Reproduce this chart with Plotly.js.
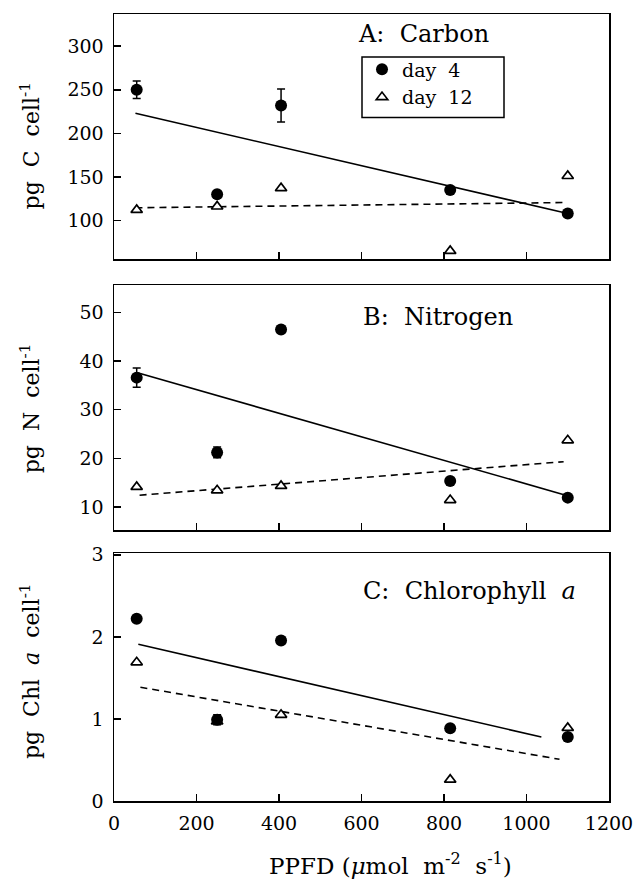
<!DOCTYPE html>
<html>
<head>
<meta charset="utf-8">
<script src="https://cdn.plot.ly/plotly-3.0.1.min.js"></script>
<style>html,body{margin:0;padding:0;background:#fff;}#chart{width:638px;height:881px;}</style>
</head>
<body>
<div id="chart"></div>
<script>
// ---- data ----
const ppfd = [55, 250, 405, 815, 1100];

const carbonDay4 = [250, 130, 232, 135, 108];
const carbonDay4Err = [10, 4, 19, 0, 0];
const carbonDay12 = [112, 116, 137, 65, 151];
const carbonFit4X = [52, 1100];
const carbonFit4Y = [223, 108];
const carbonFit12X = [52, 1090];
const carbonFit12Y = [114.5, 120.5];

const nitrogenDay4 = [36.6, 21.2, 46.5, 15.3, 11.9];
const nitrogenDay4Err = [2, 1.1, 0, 0, 0];
const nitrogenDay12 = [14.1, 13.4, 14.3, 11.4, 23.7];
const nitrogenFit4X = [57, 1095];
const nitrogenFit4Y = [37.6, 12.4];
const nitrogenFit12X = [62, 1090];
const nitrogenFit12Y = [12.4, 19.3];

const chlDay4 = [2.22, 0.99, 1.955, 0.887, 0.78];
const chlDay4Err = [0, 0.06, 0, 0, 0];
const chlDay12 = [1.69, 0.97, 1.05, 0.26, 0.89];
const chlFit4X = [59, 1036];
const chlFit4Y = [1.91, 0.78];
const chlFit12X = [64, 1080];
const chlFit12Y = [1.386, 0.508];

const xTicks = [0, 200, 400, 600, 800, 1000, 1200];
const seriesNames = ['day\u00a0\u00a04', 'day\u00a0\u00a012'];

// ---- layout geometry ----
const FONT = 'DejaVu Serif, serif';
const L = 114, R = 609, T = 13.5, B = 801;
const W = 638, H = 881;
const px2x = p => (p - L) / (R - L);
const py2y = p => (B - p) / (B - T);
const S2 = '\u00a0\u00a0';

const panels = [
  {ax: '', d4: carbonDay4, e4: carbonDay4Err, d12: carbonDay12, f4x: carbonFit4X, f4y: carbonFit4Y, f12x: carbonFit12X, f12y: carbonFit12Y, legend: true},
  {ax: '2', d4: nitrogenDay4, e4: nitrogenDay4Err, d12: nitrogenDay12, f4x: nitrogenFit4X, f4y: nitrogenFit4Y, f12x: nitrogenFit12X, f12y: nitrogenFit12Y, legend: false},
  {ax: '3', d4: chlDay4, e4: chlDay4Err, d12: chlDay12, f4x: chlFit4X, f4y: chlFit4Y, f12x: chlFit12X, f12y: chlFit12Y, legend: false}
];

const traces = [];
panels.forEach(p => {
  const xa = 'x' + p.ax, ya = 'y' + p.ax;
  traces.push({x: p.f4x, y: p.f4y, xaxis: xa, yaxis: ya, mode: 'lines', showlegend: false, hoverinfo: 'skip',
    line: {color: '#000', width: 1.6}});
  traces.push({x: p.f12x, y: p.f12y, xaxis: xa, yaxis: ya, mode: 'lines', showlegend: false, hoverinfo: 'skip',
    line: {color: '#000', width: 1.6, dash: '7px,5px'}});
  traces.push({x: ppfd, y: p.d12, xaxis: xa, yaxis: ya, mode: 'markers', name: seriesNames[1],
    showlegend: p.legend, legendrank: 2,
    marker: {symbol: 'triangle-up', size: 10, color: '#fff', line: {color: '#000', width: 1.7}}});
  traces.push({x: ppfd, y: p.d4, xaxis: xa, yaxis: ya, mode: 'markers', name: seriesNames[0],
    showlegend: p.legend, legendrank: 1,
    error_y: {type: 'data', array: p.e4, visible: true, color: '#000', thickness: 1.5, width: 4},
    marker: {symbol: 'circle', size: 12, color: '#000', line: {width: 0}}});
});

function xAxis(anchor, show) {
  return {
    anchor: anchor, range: [0, 1200], tickvals: xTicks, showticklabels: show,
    ticks: 'inside', ticklen: 7, tickwidth: 1.5, tickcolor: '#000',
    showline: true, linecolor: '#000', linewidth: 1.5, mirror: true,
    showgrid: false, zeroline: false, ticklabelstandoff: 5,
    tickfont: {family: FONT, size: 19, color: '#000'}
  };
}
function yAxis(anchor, domain, range, tickvals) {
  return {
    anchor: anchor, domain: domain, range: range, tickvals: tickvals,
    ticks: 'inside', ticklen: 7, tickwidth: 1.5, tickcolor: '#000',
    showline: true, linecolor: '#000', linewidth: 1.5, mirror: true,
    showgrid: false, zeroline: false, ticklabelstandoff: 5,
    tickfont: {family: FONT, size: 19, color: '#000'}
  };
}

const yTitleX = px2x(30);
const annFont = {family: FONT, size: 22, color: '#000'};
const labFont = {family: FONT, size: 24, color: '#000'};

const layout = {
  width: W, height: H,
  margin: {l: L, r: W - R, t: T, b: H - B, pad: 0},
  paper_bgcolor: '#fff', plot_bgcolor: '#fff',
  font: {family: FONT, color: '#000'},
  xaxis: xAxis('y', false),
  yaxis: yAxis('x', [py2y(259), 1], [55.3, 337], [100, 150, 200, 250, 300]),
  xaxis2: xAxis('y2', false),
  yaxis2: yAxis('x2', [py2y(530), py2y(285)], [5.2, 55.6], [10, 20, 30, 40, 50]),
  xaxis3: xAxis('y3', true),
  yaxis3: yAxis('x3', [0, py2y(553)], [0, 3.02], [0, 1, 2, 3]),
  showlegend: true,
  legend: {
    x: px2x(362), y: py2y(50), xanchor: 'left', yanchor: 'top',
    borderwidth: 0, bgcolor: 'rgba(0,0,0,0)',
    font: {family: FONT, size: 19, color: '#000'}, traceorder: 'normal',
    itemwidth: 30
  },
  shapes: [
    {type: 'rect', xref: 'paper', yref: 'paper', x0: px2x(362), x1: px2x(504), y0: py2y(117), y1: py2y(56.5),
     line: {color: '#000', width: 1.5}, fillcolor: '#fff', layer: 'below'}
  ],
  annotations: [
    {xref: 'paper', yref: 'paper', x: px2x(356), y: py2y(34), xanchor: 'left', yanchor: 'middle', showarrow: false,
     text: 'A:' + S2 + 'Carbon', font: labFont},
    {xref: 'paper', yref: 'paper', x: px2x(361), y: py2y(317), xanchor: 'left', yanchor: 'middle', showarrow: false,
     text: 'B:' + S2 + 'Nitrogen', font: labFont},
    {xref: 'paper', yref: 'paper', x: px2x(361), y: py2y(591), xanchor: 'left', yanchor: 'middle', showarrow: false,
     text: 'C:' + S2 + 'Chlorophyll' + S2 + '<i>a</i>', font: labFont},
    {xref: 'paper', yref: 'paper', x: yTitleX, y: py2y(146), xanchor: 'center', yanchor: 'middle', showarrow: false,
     textangle: -90, text: 'pg' + S2 + 'C' + S2 + 'cell<sup>-1</sup>', font: annFont},
    {xref: 'paper', yref: 'paper', x: yTitleX, y: py2y(408), xanchor: 'center', yanchor: 'middle', showarrow: false,
     textangle: -90, text: 'pg' + S2 + 'N' + S2 + 'cell<sup>-1</sup>', font: annFont},
    {xref: 'paper', yref: 'paper', x: yTitleX, y: py2y(671), xanchor: 'center', yanchor: 'middle', showarrow: false,
     textangle: -90, text: 'pg' + S2 + 'Chl' + S2 + '<i>a</i>' + S2 + 'cell<sup>-1</sup>', font: annFont},
    {xref: 'paper', yref: 'paper', x: px2x(390), y: py2y(864), xanchor: 'center', yanchor: 'middle', showarrow: false,
     text: 'PPFD (<i>μ</i>mol' + S2 + 'm<sup>-2</sup>' + S2 + 's<sup>-1</sup>)', font: {family: FONT, size: 23, color: '#000'}}
  ]
};

Plotly.newPlot('chart', traces, layout, {displayModeBar: false, staticPlot: true});
</script>
</body>
</html>
